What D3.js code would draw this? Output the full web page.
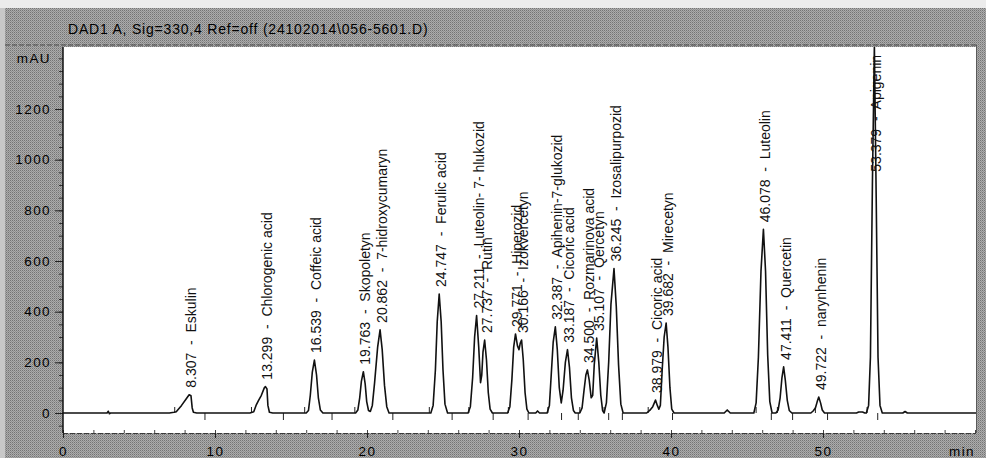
<!DOCTYPE html>
<html>
<head>
<meta charset="utf-8">
<script src="https://cdn.jsdelivr.net/npm/d3@7"></script>
<style>
html, body { margin: 0; padding: 0; background: #fff; }
svg { display: block; font-family: "Liberation Sans", Arial, sans-serif; }
</style>
</head>
<body>
<svg width="986" height="458"></svg>
<script>
// chromatogram title
var title = "DAD1 A, Sig=330,4 Ref=off (24102014\\056-5601.D)";

// labelled peaks: retention time (min), apex (mAU), compound
var peakTimes = [8.307, 13.299, 16.539, 19.763, 20.862, 24.747, 27.211, 27.737, 29.771, 30.166,
  32.387, 33.187, 34.500, 35.107, 36.245, 38.979, 39.682, 46.078, 47.411, 49.722, 53.379];
var peakHeights = [72, 104, 209, 163, 328, 470, 385, 288, 312, 288,
  340, 250, 170, 296, 570, 51, 355, 725, 182, 63, 1450];
var peakNames = ["Eskulin", "Chlorogenic acid", "Coffeic acid", "Skopoletyn", "7-hidroxycumaryn",
  "Ferulic acid", "Luteolin- 7- hlukozid", "Rutin", "Hiperozid", "Izokvercetyn",
  "Apihenin-7-glukozid", "Cicoric acid", "Rozmarinova acid", "Qercetyn", "Izosalipurpozid",
  "Cicoric acid", "Mirecetyn", "Luteolin", "Quercetin", "narynhenin", "Apigenin"];

// integration marks on the baseline (min)
var peakStarts = [7.35, 12.4, 15.9, 19.2, 24.1, 26.7, 29.3, 31.9, 34.0, 35.6, 38.5, 45.6, 47.0, 49.5, 52.9];
var peakEnds = [9.34, 14.5, 17.7, 21.7, 25.6, 28.3, 30.6, 32.8, 33.9, 35.9, 36.8, 40.1, 46.6, 48.0, 50.3, 53.6];

// signal trace: [min, mAU]
var trace = [
  [0, 0], [2.9, 0], [2.98, 7], [3.05, -3], [3.12, 0],
  [7.0, 0], [7.3, 3], [7.45, 5], [7.8, 30], [8.1, 55], [8.3, 72], [8.42, 68], [8.5, 20], [8.58, 3], [8.8, 0],
  [12.3, 0], [12.55, 5], [12.7, 30], [12.85, 48], [13.05, 70], [13.25, 100], [13.32, 104], [13.42, 95], [13.48, 30], [13.58, 3], [13.8, 0],
  [16.0, 0], [16.15, 10], [16.27, 70], [16.4, 160], [16.54, 209], [16.68, 150], [16.8, 60], [16.93, 12], [17.1, 0],
  [19.25, 0], [19.4, 12], [19.52, 60], [19.63, 125], [19.76, 163], [19.88, 115], [19.98, 45], [20.1, 10],
  [20.22, 6], [20.35, 30], [20.5, 120], [20.7, 260], [20.86, 328], [21.0, 250], [21.15, 110], [21.3, 25], [21.45, 0],
  [24.2, 0], [24.35, 30], [24.5, 170], [24.62, 360], [24.75, 470], [24.88, 360], [25.0, 170], [25.13, 35], [25.3, 0],
  [26.65, 0], [26.8, 25], [26.95, 140], [27.08, 300], [27.21, 385], [27.35, 260], [27.47, 120], [27.55, 150],
  [27.63, 240], [27.74, 288], [27.86, 210], [27.98, 80], [28.1, 15], [28.25, 0],
  [29.25, 0], [29.4, 25], [29.53, 130], [29.65, 260], [29.77, 312], [29.9, 265], [30.0, 250], [30.08, 275],
  [30.17, 288], [30.28, 210], [30.4, 80], [30.52, 15], [30.65, 0],
  [31.1, 0], [31.22, 8], [31.35, 0],
  [31.85, 0], [32.0, 30], [32.12, 150], [32.25, 280], [32.39, 340], [32.52, 250], [32.65, 100], [32.78, 40],
  [32.9, 90], [33.05, 200], [33.19, 250], [33.32, 180], [33.45, 60], [33.58, 10], [33.7, 0],
  [34.0, 0], [34.15, 20], [34.28, 90], [34.4, 150], [34.5, 170], [34.62, 130], [34.75, 60], [34.85, 70],
  [34.95, 190], [35.11, 296], [35.25, 200], [35.38, 70], [35.5, 10],
  [35.6, 0], [35.75, 40], [35.9, 200], [36.05, 430], [36.25, 570], [36.4, 420], [36.55, 190], [36.7, 35], [36.85, 0],
  [38.4, 0], [38.6, 10], [38.8, 25], [38.98, 51], [39.1, 30], [39.2, 15], [39.3, 30], [39.42, 170],
  [39.55, 300], [39.68, 355], [39.8, 260], [39.93, 100], [40.05, 15], [40.2, 0],
  [43.5, 0], [43.7, 12], [43.9, 0],
  [45.45, 0], [45.6, 40], [45.75, 220], [45.92, 560], [46.08, 725], [46.22, 560], [46.36, 230], [46.5, 45], [46.65, 0],
  [46.9, 0], [47.05, 12], [47.18, 60], [47.3, 140], [47.41, 182], [47.52, 130], [47.65, 50], [47.78, 10], [47.95, 0],
  [49.2, 0], [49.35, 8], [49.5, 20], [49.62, 45], [49.72, 63], [49.84, 40], [49.95, 12], [50.1, 0],
  [52.2, 0], [52.35, 4], [52.6, 4], [52.75, 0],
  [52.85, 0], [53.0, 30], [53.12, 220], [53.25, 900], [53.38, 1450], [53.5, 850], [53.62, 220], [53.75, 30], [53.9, 0],
  [55.25, 0], [55.4, 6], [55.55, 0],
  [60.1, 0]
];

var yTicks = [0, 200, 400, 600, 800, 1000, 1200];
var xTicks = [0, 10, 20, 30, 40, 50];

var width = 986;
var height = 458;
var plot = ({left: 63, right: 976, top: 47, bottom: 433});
var labelCeil = 925; // labels of off-scale peaks start here

var x = d3.scaleLinear()
    .domain([0, 60])
    .range([plot.left, 975]);
var y = d3.scaleLinear()
    .domain([0, 1200])
    .range([413, 109]);

var line = d3.line()
    .x(d => x(d[0]))
    .y(d => y(d[1]));

var tickText = g => g.selectAll("text")
    .attr("font-size", 13.5).attr("letter-spacing", 1.4).attr("fill", "#000");

var yAxis = g => g
    .attr("transform", `translate(${plot.left},0)`)
    .call(d3.axisLeft(y).tickValues(yTicks).tickSize(8).tickPadding(4).tickFormat(d3.format("d")))
    .call(g => g.select(".domain").remove())
    .call(tickText)
    .call(g => g.selectAll(".tick line").attr("stroke", "#222"));

var yMinor = g => g
    .attr("transform", `translate(${plot.left},0)`)
    .call(d3.axisLeft(y).tickValues(d3.range(-50, 1401, 50)).tickSize(4).tickFormat(""))
    .call(g => g.select(".domain").remove())
    .call(g => g.selectAll(".tick line").attr("stroke", "#333"));

var xAxis = g => g
    .attr("transform", `translate(0,${plot.bottom})`)
    .call(d3.axisBottom(x).tickValues(xTicks).tickSize(5).tickPadding(8))
    .call(g => g.select(".domain").remove())
    .call(tickText)
    .call(g => g.selectAll(".tick line").attr("stroke", "#222"));

var xMinor = g => g
    .attr("transform", `translate(0,${plot.bottom})`)
    .call(d3.axisTop(x).tickValues(d3.range(0, 61, 2)).tickSize(3).tickFormat(""))
    .call(g => g.select(".domain").remove())
    .call(g => g.selectAll(".tick line").attr("stroke", "#444"));

(function chart() {
  var svg = d3.select("svg");

  // halftone grey of the instrument window
  var pat = svg.append("defs").append("pattern")
      .attr("id", "grain").attr("width", 2).attr("height", 2)
      .attr("patternUnits", "userSpaceOnUse");
  pat.append("rect").attr("width", 2).attr("height", 2).attr("fill", "#acacac");
  pat.append("rect").attr("width", 1).attr("height", 1).attr("fill", "#747474");
  pat.append("rect").attr("x", 1).attr("y", 1).attr("width", 1).attr("height", 1).attr("fill", "#909090");
  svg.select("defs").append("clipPath").attr("id", "clip")
    .append("rect")
      .attr("x", plot.left).attr("y", plot.top)
      .attr("width", plot.right - plot.left).attr("height", plot.bottom - plot.top);

  svg.append("rect").attr("width", width).attr("height", height).attr("fill", "url(#grain)");
  svg.append("rect").attr("width", width).attr("height", 8).attr("fill", "#ececec");
  svg.append("rect").attr("y", 8).attr("width", 5).attr("height", height - 8).attr("fill", "#c8c8c8");

  svg.append("text")
      .attr("x", 68).attr("y", 34)
      .attr("font-size", 14).attr("letter-spacing", 0.8).attr("fill", "#000")
      .text(title);

  svg.append("line")
      .attr("x1", 5).attr("x2", plot.right).attr("y1", 45).attr("y2", 45)
      .attr("stroke", "#4a4a4a").attr("stroke-dasharray", "5,2");

  svg.append("rect")
      .attr("x", plot.left).attr("y", plot.top)
      .attr("width", plot.right - plot.left).attr("height", plot.bottom - plot.top)
      .attr("fill", "#fff");

  svg.append("line")
      .attr("x1", plot.left).attr("x2", plot.right).attr("y1", plot.bottom + 0.5).attr("y2", plot.bottom + 0.5)
      .attr("stroke", "#3a3a3a").attr("stroke-dasharray", "5,2");
  svg.append("line")
      .attr("x1", plot.right + 0.5).attr("x2", plot.right + 0.5).attr("y1", 45).attr("y2", plot.bottom)
      .attr("stroke", "#5a5a5a");

  svg.append("g").call(yMinor);
  svg.append("g").call(yAxis);
  svg.append("g").call(xMinor);
  svg.append("g").call(xAxis);

  svg.append("line")
      .attr("x1", plot.left).attr("x2", plot.left).attr("y1", plot.top).attr("y2", plot.bottom)
      .attr("stroke", "#111").attr("stroke-width", 1.5);

  svg.append("text")
      .attr("x", 51).attr("y", y(1400)).attr("dy", "0.35em")
      .attr("text-anchor", "end").attr("font-size", 13.5).attr("letter-spacing", 1.4)
      .attr("fill", "#000").text("mAU");
  svg.append("text")
      .attr("x", 962).attr("y", plot.bottom + 13).attr("dy", "0.71em")
      .attr("text-anchor", "middle").attr("font-size", 13.5).attr("letter-spacing", 1.4)
      .attr("fill", "#000").text("min");

  var area = svg.append("g").attr("clip-path", "url(#clip)");

  // start / end marks of integration
  area.append("g").selectAll("line")
    .data(peakStarts)
    .join("line")
      .attr("x1", d => x(d)).attr("x2", d => x(d))
      .attr("y1", y(0)).attr("y2", y(0) - 6)
      .attr("stroke", "#222");
  area.append("g").selectAll("line")
    .data(peakEnds)
    .join("line")
      .attr("x1", d => x(d)).attr("x2", d => x(d))
      .attr("y1", y(0)).attr("y2", y(0) + 7)
      .attr("stroke", "#222");

  area.append("path")
      .datum(trace)
      .attr("fill", "none")
      .attr("stroke", "#111")
      .attr("stroke-width", 1.6)
      .attr("stroke-linejoin", "round")
      .attr("d", line);

  svg.append("g").selectAll("text")
    .data(peakTimes)
    .join("text")
      .attr("transform", (d, i) =>
        `translate(${x(d) + 2},${Math.max(y(peakHeights[i]), y(labelCeil)) - 7}) rotate(-90)`)
      .attr("dy", "0.35em")
      .attr("font-size", 14)
      .attr("fill", "#111")
      .style("white-space", "pre")
      .text((d, i) => `${d.toFixed(3)}  -  ${peakNames[i]}`);

  return svg.node();
})();
</script>
</body>
</html>
